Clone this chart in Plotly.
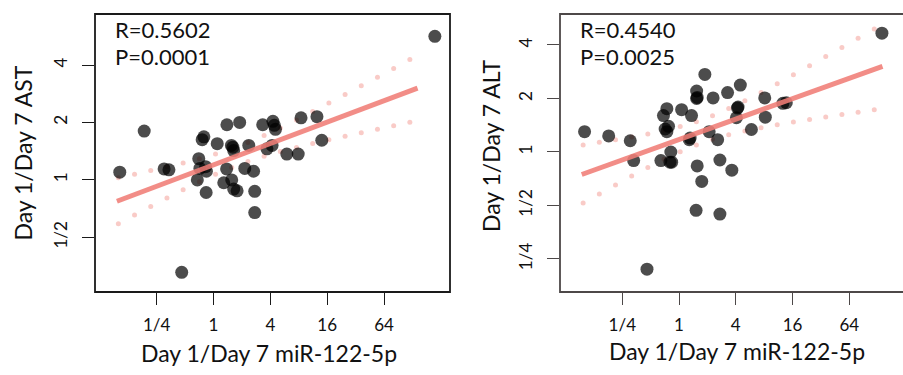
import numpy as np
import plotly.graph_objects as go

# ---- data (log2 of Day1/Day7 ratios) ----
ast_mir_log2 = [-3.30, -2.44, -1.74, -1.57, -1.12, -0.52, -0.57, -0.40, -0.34, -0.48,
                -0.28, -0.25, -0.26, 0.13, 0.47, 0.92, 0.46, 0.36, 0.63, 0.68,
                0.71, 0.64, 0.71, 0.83, 1.10, 1.24, 1.41, 1.45, 1.45, 1.73,
                2.09, 2.14, 2.18, 1.88, 2.06, 2.58, 2.98, 3.08, 3.64, 3.81, 7.79]
ast_log2 = [0.135, 0.85, 0.19, 0.175, -1.61, 0.37, 0.00, 0.70, 0.75, 0.20,
            0.23, 0.15, -0.22, 0.63, 0.96, 1.00, 0.19, -0.05, 0.60, 0.57,
            0.51, 0.00, -0.16, -0.19, 0.20, 0.60, 0.15, -0.20, -0.57, 0.96,
            1.02, 0.95, 0.88, 0.54, 0.60, 0.45, 0.45, 1.08, 1.10, 0.69, 2.50]

alt_mir_log2 = [-3.33, -2.48, -1.72, -1.60, -1.13, -0.64, -0.55, -0.43, -0.49, -0.43,
                -0.37, -0.29, -0.32, -0.26, 0.09, 0.44, 0.36, 0.39, 0.62, 0.62,
                0.64, 0.91, 0.64, 0.80, 0.60, 1.06, 1.20, 1.36, 1.44, 1.44,
                1.71, 1.86, 2.06, 2.08, 2.02, 2.16, 2.55, 3.02, 3.04, 3.66,
                3.78, 7.15]
alt_log2 = [0.38, 0.30, 0.21, -0.16, -2.19, -0.16, 0.68, 0.81, 0.43, 0.38,
            0.48, 0.00, -0.19, -0.19, 0.79, 0.68, 0.23, 0.26, 1.14, 1.00,
            1.02, 1.45, -0.26, -0.55, -1.09, 0.38, 1.01, 0.23, -0.15, -1.16,
            1.11, -0.34, 0.82, 0.84, 0.64, 1.25, 0.42, 1.01, 0.65, 0.91,
            0.92, 2.22]

stats_ast = ["R=0.5602", "P=0.0001"]
stats_alt = ["R=0.4540", "P=0.0025"]
fit_span_ast = [-3.40, 7.18]
fit_span_alt = [-3.43, 7.17]

x_tickvals = [0.25, 1, 4, 16, 64]
x_ticktext = ["1/4", "1", "4", "16", "64"]
ast_tickvals = [0.5, 1, 2, 4]
ast_ticktext = ["1/2", "1", "2", "4"]
alt_tickvals = [0.25, 0.5, 1, 2, 4]
alt_ticktext = ["1/4", "1/2", "1", "2", "4"]

x_title = "Day 1/Day 7 miR-122-5p"
y_title_ast = "Day 1/Day 7 AST"
y_title_alt = "Day 1/Day 7 ALT"

T_CRIT = 2.021
DOT_STEP = 0.57
FONT = "Lato"
W, H = 903, 375


def fit_band(xl, yl, span):
    x = np.asarray(xl, float)
    y = np.asarray(yl, float)
    b, a = np.polyfit(x, y, 1)
    n = len(x)
    res = y - (a + b * x)
    s = np.sqrt(np.sum(res ** 2) / (n - 2))
    xbar = x.mean()
    sxx = np.sum((x - xbar) ** 2)
    xs = np.array([span[0], span[1]])
    xd = np.arange(span[0] + 0.05, span[1], DOT_STEP)
    se = s * np.sqrt(1.0 / n + (xd - xbar) ** 2 / sxx)
    yd = a + b * xd
    return xs, a + b * xs, xd, yd + T_CRIT * se, yd - T_CRIT * se


fig = go.Figure()

panels = [
    (ast_mir_log2, ast_log2, fit_span_ast, "x", "y"),
    (alt_mir_log2, alt_log2, fit_span_alt, "x2", "y2"),
]
for xl, yl, span, xa, ya in panels:
    xs, yf, xd, up, lo = fit_band(xl, yl, span)
    for band in (up, lo):
        fig.add_trace(go.Scatter(
            x=np.exp2(xd), y=np.exp2(band), mode="markers", xaxis=xa, yaxis=ya,
            marker=dict(size=5, color="rgba(245,168,162,0.6)", line=dict(width=0)),
            hoverinfo="skip", showlegend=False))
    fig.add_trace(go.Scatter(
        x=np.exp2(np.asarray(xl)), y=np.exp2(np.asarray(yl)), mode="markers",
        xaxis=xa, yaxis=ya,
        marker=dict(size=13, color="rgba(0,0,0,0.70)", line=dict(width=0)),
        showlegend=False))
    fig.add_trace(go.Scatter(
        x=np.exp2(xs), y=np.exp2(yf), mode="lines", xaxis=xa, yaxis=ya,
        line=dict(color="rgba(240,125,118,0.88)", width=5),
        hoverinfo="skip", showlegend=False))

ydom = [1 - 292 / H, 1 - 14 / H]
xdom1 = [95 / W, 450 / W]
xdom2 = [560 / W, 1.0]

tickfont = dict(family=FONT, size=17, color="#111")
common_x = dict(type="log", tickmode="array", tickvals=x_tickvals, ticktext=x_ticktext,
                ticks="outside", ticklen=12, tickwidth=1, showgrid=False, zeroline=False,
                showline=False, tickfont=tickfont, ticklabelstandoff=6)
common_y = dict(type="log", tickmode="array", ticks="outside", ticklen=12, tickwidth=1,
                showgrid=False, zeroline=False, showline=False, tickfont=tickfont,
                tickangle=-90, ticklabelstandoff=8)

fig.update_layout(
    width=W, height=H, margin=dict(l=0, r=0, t=0, b=0),
    paper_bgcolor="white", plot_bgcolor="white", showlegend=False,
    font=dict(family=FONT, color="#111"),
    xaxis=dict(domain=xdom1, range=[np.log10(2 ** -4.172), np.log10(2 ** 8.323)],
               tickcolor="#1a1a1a", anchor="y", **common_x),
    yaxis=dict(domain=ydom, range=[np.log10(2 ** -1.952), np.log10(2 ** 2.888)],
               tickvals=ast_tickvals, ticktext=ast_ticktext, tickcolor="#1a1a1a",
               anchor="x", **common_y),
    xaxis2=dict(domain=xdom2, range=[np.log10(2 ** -4.196), np.log10(2 ** 7.893)],
                tickcolor="#4d4848", anchor="y2", **common_x),
    yaxis2=dict(domain=ydom, range=[np.log10(2 ** -2.617), np.log10(2 ** 2.579)],
                tickvals=alt_tickvals, ticktext=alt_ticktext, tickcolor="#4d4848",
                anchor="x2", **common_y),
)

# plot boxes
fig.add_shape(type="rect", xref="paper", yref="paper", x0=xdom1[0], x1=xdom1[1],
              y0=ydom[0], y1=ydom[1], line=dict(color="#1a1a1a", width=1.8), layer="above")
fig.add_shape(type="rect", xref="paper", yref="paper", x0=xdom2[0], x1=1.03,
              y0=ydom[0], y1=ydom[1], line=dict(color="#4d4848", width=1.8), layer="above")

ann = []
tfont = dict(family=FONT, size=23, color="#111")
ann.append(dict(text=x_title, x=269 / W, y=1 - 353 / H, xref="paper", yref="paper",
                showarrow=False, xanchor="center", yanchor="middle", font=tfont))
ann.append(dict(text=x_title, x=737 / W, y=1 - 351 / H, xref="paper", yref="paper",
                showarrow=False, xanchor="center", yanchor="middle", font=tfont))
ann.append(dict(text=y_title_ast, x=22.5 / W, y=1 - 153 / H, xref="paper", yref="paper",
                showarrow=False, xanchor="center", yanchor="middle", textangle=-90,
                font=tfont))
ann.append(dict(text=y_title_alt, x=491 / W, y=1 - 146 / H, xref="paper", yref="paper",
                showarrow=False, xanchor="center", yanchor="middle", textangle=-90,
                font=tfont))
for (sx, lines) in ((113, stats_ast), (578, stats_alt)):
    for i, t in enumerate(lines):
        ann.append(dict(text=t, x=sx / W, y=1 - (30 + 26.5 * i) / H, xref="paper",
                        yref="paper", showarrow=False, xanchor="left", yanchor="middle",
                        font=dict(family=FONT, size=22, color="#111")))
fig.update_layout(annotations=ann)

fig.write_html("out.html", config={"displayModeBar": False},
               post_script="document.body.style.margin='0px';")
